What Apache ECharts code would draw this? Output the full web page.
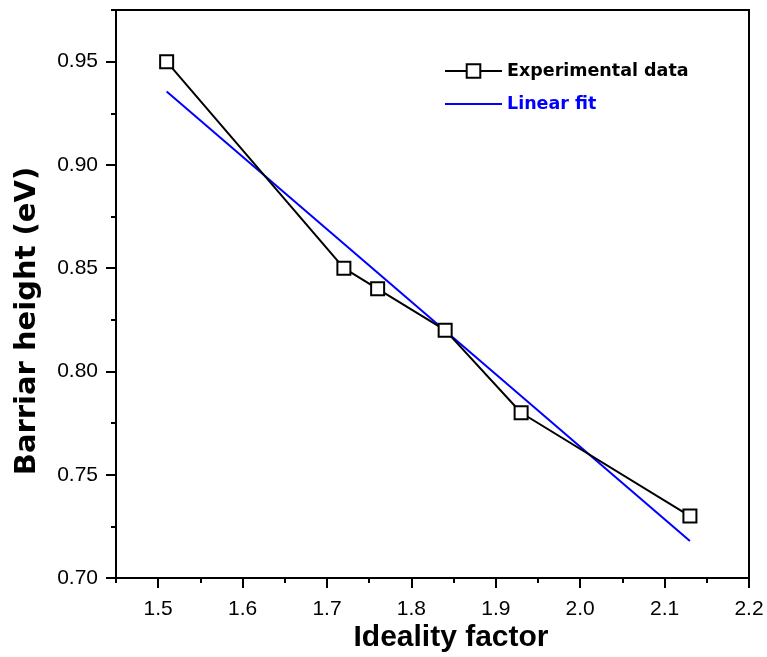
<!DOCTYPE html>
<html>
<head>
<meta charset="utf-8">
<script src="https://cdn.jsdelivr.net/npm/echarts@6/dist/echarts.min.js"></script>
<style>
  html, body { margin: 0; padding: 0; background: #fff; }
  #chart { width: 767px; height: 657px; }
</style>
</head>
<body>
<div id="chart"></div>
<script>
  const idealityFactor = [1.51, 1.72, 1.76, 1.84, 1.93, 2.13];
  const barrierHeight = [0.95, 0.85, 0.84, 0.82, 0.78, 0.73];
  const fitX = [1.51, 2.13];
  const fitY = [0.9355, 0.7179];
  const xMajorTicks = [1.5, 1.6, 1.7, 1.8, 1.9, 2.0, 2.1, 2.2];
  const xMinorTicks = [1.45, 1.55, 1.65, 1.75, 1.85, 1.95, 2.05, 2.15];
  const yMajorTicks = [0.70, 0.75, 0.80, 0.85, 0.90, 0.95];
  const yMinorTicks = [0.725, 0.775, 0.825, 0.875, 0.925, 0.975];

  const chart = echarts.init(document.getElementById("chart"));
  const font = "Liberation Sans, Arial, sans-serif";
  const wideFont = "DejaVu Sans, Verdana, sans-serif";

  function minorAxis(base, ticks) {
    return Object.assign({}, base, {
      axisLine: { show: false },
      axisLabel: { show: false },
      axisTick: { show: true, length: 5, customValues: ticks, lineStyle: { color: "#000", width: 2 } }
    });
  }

  const xBase = {
    type: "value",
    min: 1.45,
    max: 2.2,
    position: "bottom",
    splitLine: { show: false }
  };
  const yBase = {
    type: "value",
    min: 0.70,
    max: 0.975,
    position: "left",
    splitLine: { show: false }
  };

  chart.setOption({
    animation: false,
    backgroundColor: "#fff",
    grid: {
      left: 116, right: 18, top: 10, bottom: 79,
      outerBoundsMode: "none",
      containLabel: false,
      show: true, borderColor: "#000", borderWidth: 2, backgroundColor: "transparent"
    },
    legend: {
      orient: "vertical",
      left: 439,
      top: 57,
      itemWidth: 57,
      itemHeight: 17,
      itemGap: 15,
      textStyle: { fontFamily: wideFont, fontWeight: "bold", fontSize: 17.5, color: "#000" },
      data: [
        { name: "Experimental data" },
        {
          name: "Linear fit",
          icon: "path://M0,0L56,0L56,2L0,2Z",
          textStyle: { color: "#0000ff" }
        }
      ]
    },
    graphic: [
      {
        type: "text",
        x: 451, y: 638,
        style: {
          text: "Ideality factor",
          font: "bold 30px " + font,
          fill: "#000",
          align: "center",
          verticalAlign: "middle"
        }
      },
      {
        type: "text",
        x: 27, y: 321,
        rotation: Math.PI / 2,
        style: {
          text: "Barriar height (eV)",
          font: "bold 29px " + wideFont,
          fill: "#000",
          align: "center",
          verticalAlign: "middle"
        }
      }
    ],
    xAxis: [
      Object.assign({}, xBase, {
        axisLine: { show: true, lineStyle: { color: "#000", width: 2 } },
        axisTick: { show: true, length: 10, customValues: xMajorTicks, lineStyle: { color: "#000", width: 2 } },
        axisLabel: {
          customValues: xMajorTicks,
          margin: 21,
          fontFamily: font, fontSize: 21, color: "#000",
          formatter: (v) => v.toFixed(1)
        }
      }),
      minorAxis(xBase, xMinorTicks)
    ],
    yAxis: [
      Object.assign({}, yBase, {
        axisLine: { show: true, lineStyle: { color: "#000", width: 2 } },
        axisTick: { show: true, length: 10, customValues: yMajorTicks, lineStyle: { color: "#000", width: 2 } },
        axisLabel: {
          customValues: yMajorTicks,
          margin: 18,
          fontFamily: font, fontSize: 21, color: "#000",
          formatter: (v) => v.toFixed(2)
        }
      }),
      minorAxis(yBase, yMinorTicks)
    ],
    series: [
      {
        name: "Experimental data",
        type: "line",
        data: idealityFactor.map((x, i) => [x, barrierHeight[i]]),
        symbol: "rect",
        symbolSize: 13,
        showAllSymbol: true,
        z: 3,
        itemStyle: { color: "#fff", borderColor: "#000", borderWidth: 2 },
        lineStyle: { color: "#000", width: 2 }
      },
      {
        name: "Linear fit",
        type: "line",
        data: fitX.map((x, i) => [x, fitY[i]]),
        symbol: "none",
        z: 2,
        itemStyle: { color: "#0000ff" },
        lineStyle: { color: "#0000ff", width: 2 }
      }
    ]
  });
</script>
</body>
</html>
